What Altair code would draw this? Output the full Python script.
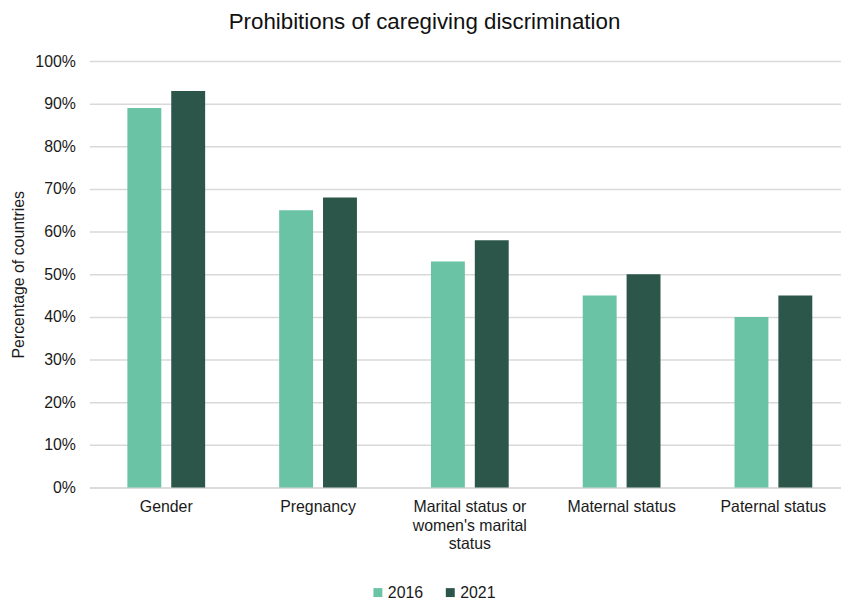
import altair as alt
import pandas as pd

categories = ["Gender", "Pregnancy", "Marital status or|women's marital|status", "Maternal status", "Paternal status"]
years = ["2016", "2021"]
values_2016 = [89, 65, 53, 45, 40]
values_2021 = [93, 68, 58, 50, 45]
y_ticks = [0, 0.1, 0.2, 0.3, 0.4, 0.5, 0.6, 0.7, 0.8, 0.9, 1.0]

rows = []
for c, a, b in zip(categories, values_2016, values_2021):
    rows.append({"category": c, "year": "2016", "value": a / 100})
    rows.append({"category": c, "year": "2021", "value": b / 100})
df = pd.DataFrame(rows)

FONT = "Liberation Sans"
TXT = "#1a1a1a"

chart = alt.Chart(df).mark_bar().encode(
    x=alt.X("category:N", sort=categories,
            scale=alt.Scale(paddingInner=0.4877, paddingOuter=0.22, align=0.57),
            axis=alt.Axis(title=None, labelAngle=0, labelExpr="split(datum.label, '|')",
                          labelFontSize=16, labelColor=TXT, labelFont=FONT,
                          ticks=False, domainColor="#d9d9d9", domainWidth=1.5,
                          labelPadding=11, labelLineHeight=19)),
    xOffset=alt.XOffset("year:N", sort=years, scale=alt.Scale(paddingInner=0.227, paddingOuter=0)),
    y=alt.Y("value:Q", scale=alt.Scale(domain=[0, 1], nice=False),
            axis=alt.Axis(title="Percentage of countries", format=".0%",
                          values=y_ticks, labelOverlap=False,
                          labelFontSize=16, labelColor=TXT, labelFont=FONT,
                          titleFontSize=16, titleFont=FONT, titleFontWeight="normal",
                          titleColor=TXT, titlePadding=8,
                          ticks=False, domain=False, gridColor="#d9d9d9", gridWidth=1.5,
                          labelPadding=14)),
    color=alt.Color("year:N", sort=years,
                    scale=alt.Scale(domain=years, range=["#69c3a4", "#2b5649"]),
                    legend=alt.Legend(title=None, orient="none", direction="horizontal",
                                      legendX=283, legendY=528,
                                      symbolType="square", symbolSize=81, symbolStrokeWidth=0,
                                      labelFontSize=16, labelFont=FONT, labelColor=TXT,
                                      labelOffset=2, columnPadding=19)),
).properties(
    width=758, height=430,
    padding={"left": 3, "top": 0, "right": 0, "bottom": 0},
    title=alt.TitleParams("Prohibitions of caregiving discrimination", fontSize=22.5,
                          font=FONT, fontWeight="normal", color="#111111", offset=20, dx=-41),
).configure_view(stroke=None)

chart.save("out.html", embed_options={"renderer": "svg", "actions": False})
